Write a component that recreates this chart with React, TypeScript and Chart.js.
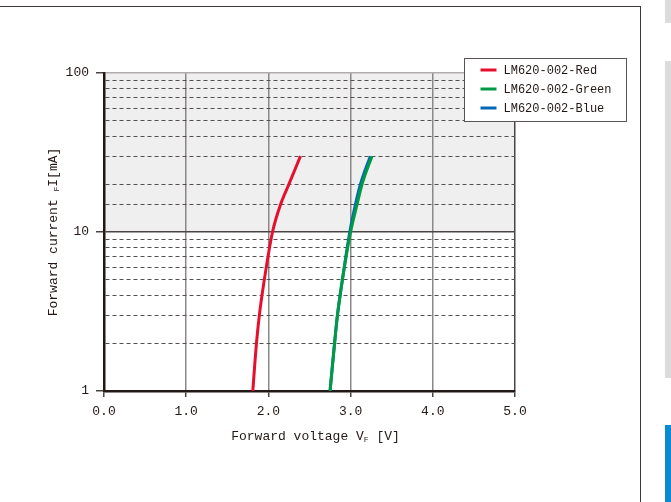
import React, { useEffect, useRef } from "react";
import { Chart, registerables } from "chart.js";

Chart.register(...registerables);

// ---- data ----
const CURRENT_MA = [1, 2, 3, 5, 10, 15, 20, 30];
const VF_RED = [1.81, 1.855, 1.89, 1.95, 2.05, 2.15, 2.25, 2.39];
const VF_GREEN = [2.75, 2.805, 2.84, 2.9, 3.0, 3.08, 3.14, 3.26];
const VF_BLUE = [2.75, 2.805, 2.84, 2.9, 2.99, 3.06, 3.12, 3.24];
const SERIES_LABELS = ["LM620-002-Red", "LM620-002-Green", "LM620-002-Blue"];
const SERIES_COLORS = ["#e60f2d", "#009a44", "#0068b7"];
const X_MIN = 0;
const X_MAX = 5;
const Y_MIN = 1;
const Y_MAX = 100;
const Y_LABELED = [1, 10, 100];
const SHADE_FROM = 10;
const SHADE_TO = 100;
const X_TITLE = ["Forward voltage V", "F", " [V]"];
const Y_TITLE = ["Forward current ", "F", "I[mA]"];

const MONO = "'Liberation Mono', 'DejaVu Sans Mono', monospace";
const INK = "#231815";

const toPoints = (vs: number[]) => vs.map((v, i) => ({ x: v, y: CURRENT_MA[i] }));

const shadePlugin = {
  id: "shade",
  beforeDraw(chart: any) {
    const { ctx, chartArea, scales } = chart;
    const y1 = scales.y.getPixelForValue(SHADE_TO);
    const y2 = scales.y.getPixelForValue(SHADE_FROM);
    ctx.save();
    ctx.fillStyle = "#efefef";
    ctx.fillRect(chartArea.left, y1, chartArea.right - chartArea.left, y2 - y1);
    ctx.restore();
  },
};

function drawParts(ctx: CanvasRenderingContext2D, parts: string[], cx: number, y: number) {
  const big = `13px ${MONO}`;
  const small = `8px ${MONO}`;
  ctx.font = big;
  const w0 = ctx.measureText(parts[0]).width;
  const w2 = ctx.measureText(parts[2]).width;
  ctx.font = small;
  const w1 = ctx.measureText(parts[1]).width;
  let x = cx - (w0 + w1 + w2) / 2;
  ctx.textAlign = "left";
  ctx.textBaseline = "alphabetic";
  ctx.font = big;
  ctx.fillText(parts[0], x, y);
  x += w0;
  ctx.font = small;
  ctx.fillText(parts[1], x, y + 2);
  x += w1;
  ctx.font = big;
  ctx.fillText(parts[2], x, y);
}

const titlesPlugin = {
  id: "titles",
  afterDraw(chart: any) {
    const { ctx, chartArea } = chart;
    ctx.save();
    ctx.fillStyle = INK;
    drawParts(ctx, X_TITLE, (chartArea.left + chartArea.right) / 2 + 6, chartArea.bottom + 49);
    ctx.translate(chartArea.left - 47, (chartArea.top + chartArea.bottom) / 2);
    ctx.rotate(-Math.PI / 2);
    drawParts(ctx, Y_TITLE, 0, 0);
    ctx.restore();
  },
};

const legendPlugin = {
  id: "boxLegend",
  afterDraw(chart: any) {
    const { ctx, chartArea } = chart;
    const left = chartArea.right - 50.5;
    const top = chartArea.top - 14.5;
    const w = 162;
    const h = 63;
    ctx.save();
    ctx.fillStyle = "#ffffff";
    ctx.fillRect(left, top, w, h);
    ctx.strokeStyle = "#5a5555";
    ctx.lineWidth = 1;
    ctx.strokeRect(left, top, w, h);
    chart.data.datasets.forEach((ds: any, i: number) => {
      const yy = top + 11.5 + i * 19;
      ctx.strokeStyle = ds.borderColor;
      ctx.lineWidth = 3;
      ctx.beginPath();
      ctx.moveTo(left + 16, yy);
      ctx.lineTo(left + 32, yy);
      ctx.stroke();
      ctx.fillStyle = INK;
      ctx.font = `12px ${MONO}`;
      ctx.textAlign = "left";
      ctx.textBaseline = "middle";
      ctx.fillText(ds.label, left + 39, yy + 1);
    });
    ctx.restore();
  },
};

export default function App() {
  const ref = useRef<HTMLCanvasElement | null>(null);

  useEffect(() => {
    if (!ref.current) return;
    const chart = new Chart(ref.current, {
      type: "scatter",
      data: {
        datasets: [
          { label: SERIES_LABELS[0], data: toPoints(VF_RED), borderColor: SERIES_COLORS[0] },
          { label: SERIES_LABELS[1], data: toPoints(VF_GREEN), borderColor: SERIES_COLORS[1] },
          { label: SERIES_LABELS[2], data: toPoints(VF_BLUE), borderColor: SERIES_COLORS[2] },
        ].map((d) => ({
          ...d,
          showLine: true,
          pointRadius: 0,
          borderWidth: 3,
          cubicInterpolationMode: "monotone",
          backgroundColor: d.borderColor,
        })),
      },
      options: {
        animation: false,
        responsive: false,
        layout: { padding: { top: 73, right: 125, left: 0, bottom: 0 } },
        plugins: { legend: { display: false }, tooltip: { enabled: false } },
        scales: {
          x: {
            type: "linear",
            min: X_MIN,
            max: X_MAX,
            afterFit: (s: any) => {
              s.height = 111;
            },
            ticks: {
              stepSize: 1,
              padding: 7,
              color: INK,
              font: { family: MONO, size: 13 },
              callback: (v: any) => Number(v).toFixed(1),
            },
            grid: {
              tickLength: 6,
              lineWidth: 1.5,
              color: (c: any) => (c.tick && c.tick.value === X_MAX ? "#4a4444" : "#8c8888"),
              tickColor: "#4a4444",
            },
            border: { color: INK, width: 2.5 },
          },
          y: {
            type: "logarithmic",
            min: Y_MIN,
            max: Y_MAX,
            afterFit: (s: any) => {
              s.width = 104;
            },
            ticks: {
              autoSkip: false,
              padding: 7,
              color: INK,
              font: { family: MONO, size: 13 },
              callback: (v: any) => (Y_LABELED.includes(Number(v)) ? String(v) : ""),
            },
            grid: {
              tickLength: 8,
              lineWidth: (c: any) => (c.tick && Y_LABELED.includes(c.tick.value) ? 1.5 : 1),
              color: (c: any) => {
                const v = c.tick ? c.tick.value : 0;
                if (v === Y_MAX) return "#b0acac";
                if (Y_LABELED.includes(v)) return "#4a4444";
                return "#555050";
              },
              tickColor: (c: any) =>
                c.tick && Y_LABELED.includes(c.tick.value) ? "#4a4444" : "rgba(0,0,0,0)",
            },
            border: {
              color: INK,
              width: 2.5,
              dash: (c: any) =>
                c.tick && !Y_LABELED.includes(c.tick.value) ? [4, 3] : [],
            },
          },
        },
      },
      plugins: [shadePlugin, titlesPlugin, legendPlugin],
    } as any);
    return () => chart.destroy();
  }, []);

  return (
    <div style={{ position: "absolute", left: 0, top: 0, width: 671, height: 502, overflow: "hidden", background: "#fff" }}>
      <div
        style={{
          position: "absolute",
          left: -10,
          top: 6,
          width: 649,
          height: 520,
          border: "1.5px solid #3f3838",
        }}
      />
      <canvas ref={ref} width={640} height={502} style={{ position: "absolute", left: 0, top: 0 }} />
      <div style={{ position: "absolute", left: 665, top: 0, width: 6, height: 23, background: "#dcdcdc" }} />
      <div style={{ position: "absolute", left: 665, top: 61, width: 6, height: 317, background: "#dcdcdc" }} />
      <div style={{ position: "absolute", left: 665, top: 425, width: 6, height: 77, background: "#0a8ad0" }} />
    </div>
  );
}
